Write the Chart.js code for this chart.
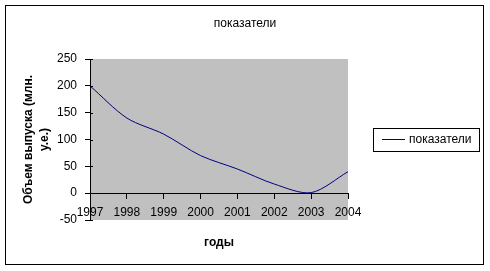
<!DOCTYPE html>
<html>
<head>
<meta charset="utf-8">
<script src="https://cdn.jsdelivr.net/npm/chart.js@4/dist/chart.umd.min.js"></script>
<style>
  html, body { margin: 0; padding: 0; background: #fff; }
  #wrap { width: 490px; height: 271px; position: relative; }
</style>
</head>
<body>
<div id="wrap"><canvas id="chart"></canvas></div>
<script>
// данные графика
const years = ['1997', '1998', '1999', '2000', '2001', '2002', '2003', '2004'];
const values = [200, 140, 110, 70, 45, 17, 1, 40];
const seriesName = 'показатели';
const chartTitle = 'показатели';
const yTitle = ['Объем выпуска (млн.', 'у.е.)'];
const xTitle = 'годы';

Chart.defaults.font.family = '"Liberation Sans", Arial, sans-serif';
Chart.defaults.font.size = 12;
Chart.defaults.color = '#000';

// фон области построения, рамка, заголовок, легенда и подпись оси X
const excelDecor = {
  id: 'excelDecor',
  beforeDraw(chart) {
    const { ctx, chartArea: a } = chart;
    ctx.save();
    ctx.fillStyle = '#c0c0c0';
    ctx.fillRect(a.left, a.top, a.right - a.left, a.bottom - a.top);
    ctx.restore();
  },
  afterDraw(chart) {
    const { ctx, chartArea: a } = chart;
    ctx.save();
    // внешняя рамка
    ctx.strokeStyle = '#000';
    ctx.lineWidth = 1;
    ctx.strokeRect(5.5, 5.5, 478, 259);

    // заголовок
    ctx.font = '12px "Liberation Sans", Arial, sans-serif';
    ctx.fillStyle = '#000';
    ctx.textAlign = 'center';
    ctx.textBaseline = 'middle';
    ctx.fillText(chartTitle, 245, 24);

    // подпись оси X
    ctx.font = 'bold 12px "Liberation Sans", Arial, sans-serif';
    ctx.fillText(xTitle, (a.left + a.right) / 2, 243);

    // легенда
    const ds = chart.data.datasets[0];
    ctx.strokeRect(373.5, 128.5, 106, 23);
    ctx.strokeStyle = ds.borderColor;
    ctx.beginPath();
    ctx.moveTo(382, 139.5);
    ctx.lineTo(405, 139.5);
    ctx.stroke();
    ctx.font = '12px "Liberation Sans", Arial, sans-serif';
    ctx.textAlign = 'left';
    ctx.fillText(ds.label, 409, 140);

    // засечки оси Y внутрь области
    const y = chart.scales.y;
    ctx.strokeStyle = '#000';
    ctx.beginPath();
    y.ticks.forEach(t => {
      const py = Math.round(y.getPixelForValue(t.value)) + 0.5;
      ctx.moveTo(a.left, py);
      ctx.lineTo(a.left + 3, py);
    });
    ctx.stroke();
    ctx.restore();
  }
};

new Chart(document.getElementById('chart'), {
  type: 'line',
  data: {
    labels: years,
    datasets: [{
      label: seriesName,
      data: values,
      borderColor: '#000080',
      borderWidth: 1,
      pointRadius: 0,
      tension: 0.3,
      fill: false
    }]
  },
  options: {
    responsive: true,
    maintainAspectRatio: false,
    animation: false,
    layout: { padding: { top: 59, left: 0, right: 142, bottom: 51 } },
    plugins: {
      legend: { display: false },
      tooltip: { enabled: false },
      title: { display: false }
    },
    scales: {
      x: {
        position: { y: 0 },
        offset: false,
        grid: { drawOnChartArea: false, drawTicks: true, tickLength: 5, color: '#000' },
        border: { color: '#000' },
        ticks: { padding: 7, maxRotation: 0, autoSkip: false },
        afterFit(scale) { scale.height = 0; }
      },
      y: {
        min: -50,
        max: 250,
        ticks: { stepSize: 50, padding: 8 },
        grid: { drawOnChartArea: false, drawTicks: true, tickLength: 5, color: '#000' },
        border: { color: '#000' },
        title: {
          display: true,
          text: yTitle,
          font: { size: 12, weight: 'bold', lineHeight: '16px' },
          padding: { top: 21, bottom: 0 }
        },
        afterFit(scale) { scale.width = 90; }
      }
    }
  },
  plugins: [excelDecor]
});
</script>
</body>
</html>
